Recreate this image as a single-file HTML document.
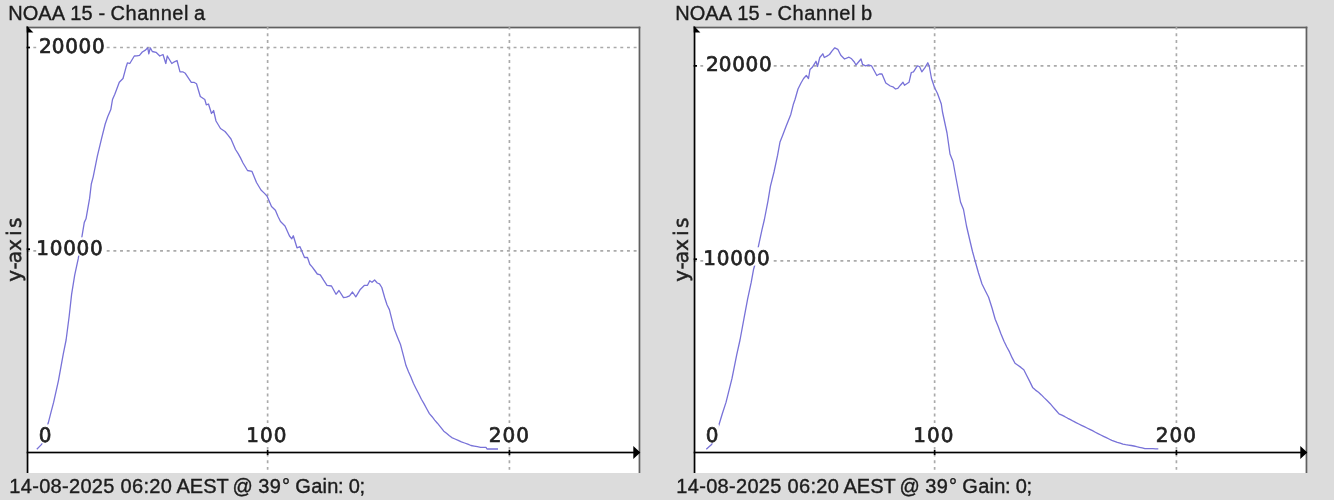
<!DOCTYPE html>
<html><head><meta charset="utf-8"><title>NOAA 15</title>
<style>
html,body{margin:0;padding:0;background:#dcdcdc;overflow:hidden}
svg{display:block}
.tk{text-rendering:geometricPrecision;font-family:"DejaVu Sans","Liberation Sans",sans-serif;font-size:20px;fill:#222;stroke:#222;stroke-width:0.7px;letter-spacing:0.7px}
.yl{text-rendering:geometricPrecision;font-family:"DejaVu Sans","Liberation Sans",sans-serif;font-size:20px;fill:#222;stroke:#222;stroke-width:0.45px;letter-spacing:0.7px}
.tt{font-family:"Liberation Sans",sans-serif;font-size:20px;fill:#1c1c1c;stroke:#1c1c1c;stroke-width:0.38px}
.ft{font-family:"Liberation Sans",sans-serif;font-size:20px;fill:#1c1c1c;stroke:#1c1c1c;stroke-width:0.38px;letter-spacing:0.3px}
</style></head><body>
<svg width="1334" height="500" viewBox="0 0 1334 500">
<defs><filter id="soft" x="0" y="0" width="1334" height="500" filterUnits="userSpaceOnUse"><feGaussianBlur stdDeviation="0.55"/></filter></defs>
<g filter="url(#soft)">
<rect x="-5" y="-5" width="1344" height="510" fill="#dcdcdc"/>
<rect x="28.35" y="28.33" width="610.30" height="444.67" fill="#fff"/>
<rect x="26.68" y="26.67" width="613.64" height="1.67" fill="#606060"/>
<rect x="638.65" y="26.67" width="1.67" height="446.33" fill="#606060"/>
<line x1="267.63" y1="26.67" x2="267.63" y2="473.00" stroke="#aaaaaa" stroke-width="1.67" stroke-dasharray="2.92 3.75"/>
<line x1="509.42" y1="26.67" x2="509.42" y2="473.00" stroke="#aaaaaa" stroke-width="1.67" stroke-dasharray="2.92 3.75"/>
<line x1="26.68" y1="47.50" x2="638.65" y2="47.50" stroke="#aaaaaa" stroke-width="1.67" stroke-dasharray="2.92 3.75"/>
<line x1="26.68" y1="250.83" x2="638.65" y2="250.83" stroke="#aaaaaa" stroke-width="1.67" stroke-dasharray="2.92 3.75"/>
<polyline points="36.8,449.2 41.6,444.4 44.5,435.0 48.3,422.8 50.9,412.6 53.6,402.4 58.4,380.8 63.2,354.4 66.1,340.0 69.2,316.0 71.6,294.4 74.7,275.2 78.3,258.4 81.9,236.8 84.3,222.4 86.0,218.8 89.6,198.4 91.3,184.0 93.2,176.8 97.3,156.4 101.6,138.4 105.2,124.0 107.7,116.8 110.8,109.6 112.5,99.5 114.8,94.3 119.3,82.3 123.0,78.5 126.0,67.3 127.5,62.8 129.8,63.5 134.3,56.0 136.9,55.9 139.5,55.3 142.3,52.0 145.0,50.4 147.8,47.8 148.8,53.8 150.3,47.8 152.3,51.5 156.0,52.3 159.8,56.0 163.0,54.5 165.8,63.5 167.3,56.0 171.8,63.5 174.4,61.8 177.0,60.5 180.0,71.8 182.7,71.8 185.3,73.3 188.3,77.8 191.3,82.3 193.9,82.3 196.5,83.8 200.3,96.5 204.8,99.5 206.3,104.8 208.5,104.0 211.5,113.5 213.6,110.5 216.0,121.0 220.5,128.5 225.0,131.5 228.0,135.1 231.0,139.0 235.5,149.5 238.0,153.4 240.5,157.9 243.0,163.0 247.5,170.5 252.0,171.4 256.5,182.5 261.0,190.0 264.0,192.9 267.0,196.0 271.5,206.5 275.4,210.3 277.9,216.3 280.5,221.5 285.0,226.0 289.5,236.0 291.8,238.8 293.3,235.8 297.0,247.8 300.0,246.7 304.5,257.5 307.5,257.5 309.8,264.3 312.3,267.1 314.8,270.5 317.3,274.0 320.3,274.8 323.6,280.2 327.0,285.3 331.5,286.0 336.0,294.3 339.0,290.5 343.5,297.7 346.5,297.2 349.5,295.8 352.5,292.0 355.8,296.8 360.0,289.8 364.5,285.3 367.5,285.3 369.8,280.8 372.0,282.3 374.6,280.0 377.3,283.0 379.5,283.8 381.8,287.5 384.8,298.0 387.0,304.8 389.4,309.6 394.2,328.8 397.4,336.9 400.6,344.8 403.3,355.2 406.0,365.6 408.5,371.7 410.9,377.1 413.4,383.2 416.1,388.7 418.7,393.8 421.4,399.2 424.1,403.9 426.7,408.7 429.4,413.6 432.1,416.7 434.7,420.1 437.4,423.2 440.6,427.1 443.8,431.2 446.5,433.3 449.1,435.5 451.8,437.6 455.0,439.0 458.2,440.4 461.4,441.8 464.6,443.0 467.8,444.2 471.0,445.5 474.2,446.1 477.4,446.7 480.6,447.3 483.3,447.3 486.0,447.3 487.0,449.0 489.8,449.0 492.5,449.0 495.2,449.0 498.0,449.0" fill="none" stroke="#7872d8" stroke-width="1.3" stroke-linejoin="round"/>
<rect x="36.7" y="35.3" width="67.8" height="18.3" fill="#fff"/>
<text class="tk" transform="translate(39.0,52.6) scale(1,1.0)" dx="0 -0.7">20000</text>
<rect x="36.7" y="237.3" width="67.8" height="18.3" fill="#fff"/>
<text class="tk" transform="translate(36.3,254.6) scale(1,1.0)">10000</text>
<rect x="38.2" y="424.4" width="13.7" height="18.9" fill="#fff"/>
<text class="tk" transform="translate(38.7,441.5) scale(1,1.0)">0</text>
<rect x="245.8" y="424.4" width="41.1" height="18.9" fill="#fff"/>
<text class="tk" transform="translate(246.3,441.5) scale(1,1.0)" dx="0 0.3 0.3">100</text>
<rect x="488.2" y="424.4" width="41.1" height="18.9" fill="#fff"/>
<text class="tk" transform="translate(488.7,441.5) scale(1,1.0)" dx="0 0.3 0.3">200</text>
<rect x="26.68" y="26.67" width="1.67" height="446.33" fill="#000"/>
<rect x="26.68" y="451.67" width="612.81" height="1.67" fill="#000"/>
<rect x="266.80" y="450.00" width="1.67" height="5.00" fill="#000"/>
<rect x="508.59" y="450.00" width="1.67" height="5.00" fill="#000"/>
<rect x="26.68" y="46.67" width="3.33" height="1.67" fill="#000"/>
<rect x="26.68" y="248.33" width="3.33" height="1.67" fill="#000"/>
<polygon points="640.3,452.5 633.3,446.0 633.3,459.0" fill="#000"/>
<polygon points="26.7,25.8 33.4,32.5 26.7,32.5" fill="#000"/>
<text class="yl" transform="translate(20.8,281.8) rotate(-90)" dx="0 0 -1.5 -0.7 2.3 1.9">y-axis</text>
<text class="tt" x="8.3" y="19.5" dx="0 0 0 0 0 0.8 0 0 0.3 0 0 0.55 0.55 0.55 0.55 0.55 0.55 0 0">NOAA 15 - Channel a</text>
<text class="ft" x="9.3" y="493" dx="0 0 0 0 0 0 0 0 0 0 0 0 0 0 0 0 0 -0.5 -0.3 -0.3 -0.3 0 -1.9 0 -0.8 0 0.8 0 -0.8 0 0 0 -0.8 0 -0.9 -0.8">14-08-2025 06:20 AEST @ 39° Gain: 0;</text>
<rect x="695.35" y="28.33" width="610.30" height="444.67" fill="#fff"/>
<rect x="693.68" y="26.67" width="613.64" height="1.67" fill="#606060"/>
<rect x="1305.65" y="26.67" width="1.67" height="446.33" fill="#606060"/>
<line x1="934.63" y1="26.67" x2="934.63" y2="473.00" stroke="#aaaaaa" stroke-width="1.67" stroke-dasharray="2.92 3.75"/>
<line x1="1176.42" y1="26.67" x2="1176.42" y2="473.00" stroke="#aaaaaa" stroke-width="1.67" stroke-dasharray="2.92 3.75"/>
<line x1="693.68" y1="65.83" x2="1305.65" y2="65.83" stroke="#aaaaaa" stroke-width="1.67" stroke-dasharray="2.92 3.75"/>
<line x1="693.68" y1="260.83" x2="1305.65" y2="260.83" stroke="#aaaaaa" stroke-width="1.67" stroke-dasharray="2.92 3.75"/>
<polyline points="706.3,449.2 709.0,446.8 711.6,444.4 715.0,436.0 718.8,425.2 722.3,413.8 726.0,402.4 729.0,390.4 732.0,378.4 736.8,354.4 740.0,340.0 744.0,318.4 747.6,299.2 751.2,282.4 753.6,269.2 755.0,264.5 758.4,246.4 762.0,229.6 764.4,219.5 768.0,200.8 770.4,186.4 774.0,172.0 777.6,155.2 780.0,142.0 782.4,136.0 786.0,126.4 790.8,114.4 793.2,104.8 795.0,99.5 798.0,89.0 801.0,83.0 803.6,78.5 806.3,75.5 808.5,78.5 810.0,69.5 812.3,67.3 816.0,61.3 817.5,66.5 819.8,57.5 822.8,53.8 824.3,57.5 826.9,56.1 829.5,54.5 832.1,50.9 834.8,47.8 837.8,49.3 840.8,55.3 844.5,59.0 849.0,57.2 851.6,58.8 854.3,62.0 856.0,65.0 858.5,62.0 861.0,59.0 862.5,64.3 865.5,65.8 868.5,65.0 871.5,65.8 874.1,70.5 876.8,75.5 879.4,74.0 882.0,74.0 885.8,83.0 890.3,86.0 892.9,86.8 895.5,89.0 897.8,88.3 900.4,85.2 903.0,82.3 904.5,85.3 909.0,82.3 911.3,72.5 913.5,71.8 917.3,65.8 919.5,66.5 921.8,71.8 924.8,67.9 927.8,62.8 929.3,66.5 931.5,78.5 934.5,87.5 937.5,93.5 941.3,104.0 942.5,112.0 947.0,133.0 950.0,154.0 953.0,161.5 956.0,178.0 960.5,202.0 963.5,209.5 966.5,226.0 970.0,241.0 972.5,251.5 975.4,262.0 978.5,273.0 982.0,284.0 985.3,290.7 988.6,297.2 992.1,308.2 995.2,319.2 998.2,326.5 1001.0,333.9 1004.0,341.2 1006.8,347.0 1009.5,351.9 1012.2,357.9 1015.0,363.2 1017.9,365.3 1020.9,367.4 1023.8,369.8 1026.7,375.5 1029.7,381.4 1032.6,387.4 1035.5,390.1 1038.5,392.2 1041.4,394.9 1044.3,397.9 1047.3,400.8 1050.2,403.7 1053.1,407.1 1056.1,410.5 1059.0,413.9 1061.9,415.2 1064.9,416.7 1067.8,418.3 1070.5,419.6 1073.3,421.2 1076.0,422.6 1078.8,424.0 1081.5,425.3 1084.3,426.7 1087.0,428.0 1089.8,429.3 1092.5,430.7 1095.3,432.2 1098.0,433.6 1100.8,435.0 1103.5,436.3 1106.3,437.7 1109.0,439.0 1111.8,440.3 1114.6,441.3 1117.3,442.3 1120.1,443.2 1122.9,444.2 1125.7,444.7 1128.4,445.1 1131.2,445.5 1133.9,446.0 1136.7,446.7 1139.4,447.3 1142.2,447.9 1144.9,448.6 1147.6,448.6 1150.3,448.7 1152.9,448.7 1155.6,448.8 1158.3,448.8" fill="none" stroke="#7872d8" stroke-width="1.3" stroke-linejoin="round"/>
<rect x="703.7" y="53.9" width="67.8" height="18.3" fill="#fff"/>
<text class="tk" transform="translate(706.0,71.2) scale(1,1.0)" dx="0 -0.7">20000</text>
<rect x="703.7" y="247.3" width="67.8" height="18.3" fill="#fff"/>
<text class="tk" transform="translate(703.3,264.6) scale(1,1.0)">10000</text>
<rect x="705.2" y="424.4" width="13.7" height="18.9" fill="#fff"/>
<text class="tk" transform="translate(705.7,441.5) scale(1,1.0)">0</text>
<rect x="912.8" y="424.4" width="41.1" height="18.9" fill="#fff"/>
<text class="tk" transform="translate(913.3,441.5) scale(1,1.0)" dx="0 0.3 0.3">100</text>
<rect x="1155.2" y="424.4" width="41.1" height="18.9" fill="#fff"/>
<text class="tk" transform="translate(1155.7,441.5) scale(1,1.0)" dx="0 0.3 0.3">200</text>
<rect x="693.68" y="26.67" width="1.67" height="446.33" fill="#000"/>
<rect x="693.68" y="451.67" width="612.81" height="1.67" fill="#000"/>
<rect x="933.80" y="450.00" width="1.67" height="5.00" fill="#000"/>
<rect x="1175.59" y="450.00" width="1.67" height="5.00" fill="#000"/>
<rect x="693.68" y="65.00" width="3.33" height="1.67" fill="#000"/>
<rect x="693.68" y="258.33" width="3.33" height="1.67" fill="#000"/>
<polygon points="1307.3,452.5 1300.3,446.0 1300.3,459.0" fill="#000"/>
<polygon points="693.7,25.8 700.4,32.5 693.7,32.5" fill="#000"/>
<text class="yl" transform="translate(687.8,281.8) rotate(-90)" dx="0 0 -1.5 -0.7 2.3 1.9">y-axis</text>
<text class="tt" x="675.3" y="19.5" dx="0 0 0 0 0 0.8 0 0 0.3 0 0 0.55 0.55 0.55 0.55 0.55 0.55 0 0">NOAA 15 - Channel b</text>
<text class="ft" x="676.3" y="493" dx="0 0 0 0 0 0 0 0 0 0 0 0 0 0 0 0 0 -0.5 -0.3 -0.3 -0.3 0 -1.9 0 -0.8 0 0.8 0 -0.8 0 0 0 -0.8 0 -0.9 -0.8">14-08-2025 06:20 AEST @ 39° Gain: 0;</text>
</g>
</svg>
</body></html>
